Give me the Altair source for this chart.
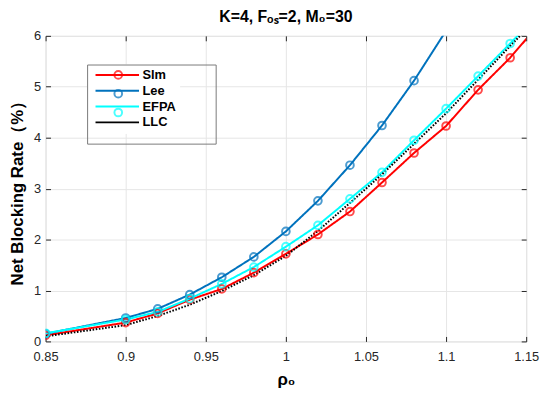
import altair as alt
import pandas as pd

rho = [0.85, 0.90, 0.92, 0.94, 0.96, 0.98, 1.00, 1.02, 1.04, 1.06, 1.08, 1.10, 1.12, 1.14, 1.16]
slm = [0.12, 0.37, 0.55, 0.82, 1.03, 1.35, 1.72, 2.10, 2.55, 3.12, 3.70, 4.23, 4.94, 5.57, 6.30]
lee = [0.15, 0.46, 0.64, 0.92, 1.26, 1.66, 2.16, 2.76, 3.46, 4.24, 5.12, 6.10]
efpa = [0.16, 0.43, 0.58, 0.84, 1.13, 1.46, 1.86, 2.28, 2.80, 3.32, 3.95, 4.57, 5.21, 5.85, 6.50]
llc = [0.10, 0.32, 0.50, 0.72, 0.99, 1.30, 1.68, 2.17, 2.72, 3.28, 3.88, 4.48, 5.14, 5.80, 6.45]

series = ["Slm", "Lee", "EFPA", "LLC"]
colors = ["#FF0000", "#0072BD", "#00FFFF", "#000000"]
marker_colors = ["#FF0000", "#0072BD", "#00FFFF", "rgba(0,0,0,0)"]
dashes = [[1, 0], [1, 0], [1, 0], [1.6, 1.6]]
x_ticks = [0.85, 0.9, 0.95, 1.0, 1.05, 1.1, 1.15]
y_ticks = [0, 1, 2, 3, 4, 5, 6]

rows = []
for name, vals in zip(series, [slm, lee, efpa, llc]):
    for x, v in zip(rho, vals):
        rows.append({"rho": x, "rate": v, "series": name})
df = pd.DataFrame(rows)

W, H = 486, 309
FONT = "Liberation Sans"
xs = alt.Scale(domain=[0.85, 1.15], nice=False, zero=False)
ys = alt.Scale(domain=[0, 6], nice=False, zero=False)

line_path = "M-0.4,0H8.4"

line_legend = alt.Legend(
    title=None, orient="none", legendX=42, legendY=29,
    symbolType=line_path, symbolSize=100, symbolStrokeWidth=2,
    labelFont=FONT, labelFontSize=13, labelFontWeight="bold", labelColor="#000000",
    labelOffset=39, rowPadding=2, padding=4, fillColor="#ffffff",
)
marker_legend = alt.Legend(
    title=None, orient="none", legendX=42, legendY=29,
    symbolType="circle", symbolSize=60, symbolStrokeWidth=2, symbolFillColor="transparent",
    symbolOffset=21,
    labelFont=FONT, labelFontSize=13, labelFontWeight="bold", labelOpacity=0,
    labelOffset=54, rowPadding=2, padding=4, strokeColor="#7a7a7a",
)

lines = alt.Chart(df).mark_line(strokeWidth=2, clip=True).encode(
    x=alt.X("rho:Q", scale=xs, axis=alt.Axis(
        values=x_ticks, format="~g", orient="bottom", offset=-5, tickSize=5, domain=False,
        grid=True, gridColor="#e6e6e6", tickColor="#262626", labelPadding=9, labelFlush=False,
        labelFont=FONT, labelFontSize=13, labelColor="#262626",
        title="ρ₀", titleFont=FONT, titleFontSize=17, titleFontWeight="bold",
        titleColor="#000000", titlePadding=9)),
    y=alt.Y("rate:Q", scale=ys, axis=alt.Axis(
        values=y_ticks, format="d", orient="left", offset=-5, tickSize=5, domain=False,
        grid=True, gridColor="#e6e6e6", tickColor="#262626", labelPadding=5, labelFlush=False,
        labelFont=FONT, labelFontSize=13, labelColor="#262626",
        title="Net Blocking Rate（%）", titleFont=FONT, titleFontSize=17,
        titleFontWeight="bold", titleColor="#000000", titlePadding=7)),
    color=alt.Color("series:N", scale=alt.Scale(domain=series, range=colors), legend=line_legend),
    strokeDash=alt.StrokeDash("series:N", scale=alt.Scale(domain=series, range=dashes), legend=line_legend),
)

points = alt.Chart(df[df["series"] != "LLC"]).mark_point(
    shape="circle", filled=False, size=60, strokeWidth=2, clip=True
).encode(
    x=alt.X("rho:Q", scale=xs, axis=alt.Axis(
        values=x_ticks, orient="top", offset=-5, tickSize=5, domain=False, grid=False,
        labels=False, title=None, tickColor="#262626")),
    y=alt.Y("rate:Q", scale=ys, axis=alt.Axis(
        values=y_ticks, orient="right", offset=-5, tickSize=5, domain=False, grid=False,
        labels=False, title=None, tickColor="#262626")),
    color=alt.Color("series:N", scale=alt.Scale(domain=series, range=marker_colors), legend=marker_legend),
)

chart = alt.layer(lines, points).resolve_axis(
    x="independent", y="independent"
).resolve_scale(color="independent").resolve_legend(color="independent").properties(
    width=W, height=H,
    autosize=alt.AutoSizeParams(type="none"),
    padding={"left": 38, "top": 26, "right": 16, "bottom": 50},
    title=alt.TitleParams(text="K=4, Fₒₛ=2, M₀=30", font=FONT, fontSize=16, fontWeight="bold",
                          color="#000000", anchor="middle", offset=5),
).configure_view(stroke="#262626", strokeWidth=1).configure(background="#ffffff")

chart.save("out.html", embed_options={"renderer": "svg", "actions": False})
